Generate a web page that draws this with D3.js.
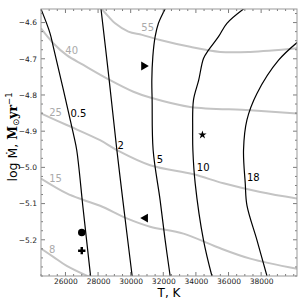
<!DOCTYPE html>
<html>
<head>
<meta charset="utf-8">
<script src="https://cdn.jsdelivr.net/npm/d3@7"></script>
<style>
  body { margin: 0; background: #fff; }
  text { font-family: "DejaVu Sans", sans-serif; }
</style>
</head>
<body>
<svg id="canvas" width="300" height="300"></svg>
<script>
// axis ticks
var tempTicks = [26000, 28000, 30000, 32000, 34000, 36000, 38000]
var mdotTicks = [-5.2, -5.1, -5.0, -4.9, -4.8, -4.7, -4.6]

// black contours (T, log Mdot) and their labels
var blackLabels = ["0.5", "2", "5", "10", "18"]
var black05 = [[24500,-4.5625],[25050,-4.629],[25255,-4.667],[26480,-4.906],[26690,-4.952],[27080,-5.113],[27540,-5.30]]
var black2 = [[28180,-4.5625],[28660,-4.75],[29140,-4.947],[29520,-5.091],[30090,-5.30]]
var black5 = [[32114,-4.5625],[31702,-4.602],[31500,-4.639],[31358,-4.694],[31297,-4.759],[31315,-4.814],[31377,-4.952],[31807,-5.091],[32114,-5.201],[32421,-5.30]]
var black10 = [[36921,-4.5625],[35902,-4.602],[35386,-4.639],[34772,-4.676],[34465,-4.699],[34171,-4.759],[33851,-4.814],[33802,-4.897],[33814,-4.952],[33956,-5.044],[34465,-5.201],[34981,-5.30]]
var black18 = [[40400,-4.648],[39070,-4.704],[37744,-4.796],[37130,-4.869],[36921,-4.952],[37026,-5.044],[37130,-5.105],[37744,-5.201],[38358,-5.30]]
var blackLabelPos = [[26790,-4.850],[29394,-4.939],[31788,-4.978],[34447,-5.000],[37517,-5.029]]

// gray contours
var grayLabels = ["55", "40", "25", "15", "8"]
var gray55 = [[28227,-4.5625],[28614,-4.582],[29044,-4.602],[29860,-4.625],[30701,-4.634],[31807,-4.648],[33649,-4.667],[35491,-4.681],[37333,-4.681],[40200,-4.671]]
var gray40 = [[24500,-4.616],[25255,-4.657],[26078,-4.690],[27097,-4.717],[28737,-4.759],[30167,-4.791],[31193,-4.807],[33649,-4.833],[37333,-4.842],[40200,-4.851]]
var gray25 = [[24500,-4.851],[26078,-4.883],[28123,-4.925],[29148,-4.952],[31193,-4.994],[33851,-5.019],[35693,-5.044],[37947,-5.068],[40200,-5.086]]
var gray15 = [[24500,-5.031],[26078,-5.072],[27100,-5.090],[28123,-5.106],[29762,-5.141],[31193,-5.164],[33237,-5.183],[35288,-5.220],[37333,-5.252],[40200,-5.280]]
var gray8 = [[24500,-5.224],[25255,-5.247],[26078,-5.272],[27600,-5.305]]
var grayLabelPos = [[31041,-4.612],[26385,-4.677],[25390,-4.849],[25390,-5.031],[25188,-5.227]]

// observed stars
var markerT = [30800, 34400, 30900, 27000, 27000]
var markerMdot = [-4.72, -4.91, -5.14, -5.18, -5.23]
var markerShape = ["tri-right", "star", "tri-left", "circle", "plus"]

var svg = d3.select("#canvas")
var mLeft = 41, mTop = 9, w = 256, h = 267

var x = d3.scaleLinear().domain([24500, 40200]).range([mLeft, mLeft + w])
var y = d3.scaleLinear().domain([-5.3, -4.5625]).range([mTop + h, mTop])

svg.append("clipPath").attr("id", "clip")
  .append("rect").attr("x", mLeft).attr("y", mTop).attr("width", w).attr("height", h)

var line = d3.line()
  .x(function(d) { return x(d[0]) })
  .y(function(d) { return y(d[1]) })
  .curve(d3.curveCatmullRom)

var plot = svg.append("g").attr("clip-path", "url(#clip)")

;[gray55, gray40, gray25, gray15, gray8].forEach(function(c) {
  plot.append("path").attr("d", line(c))
    .attr("fill", "none").attr("stroke", "#c4c4c4").attr("stroke-width", 2)
})
;[black05, black2, black5, black10, black18].forEach(function(c) {
  plot.append("path").attr("d", line(c))
    .attr("fill", "none").attr("stroke", "#000").attr("stroke-width", 1.2)
})

grayLabels.forEach(function(l, i) {
  svg.append("text").text(l)
    .attr("x", x(grayLabelPos[i][0])).attr("y", y(grayLabelPos[i][1]))
    .attr("dy", "0.36em").attr("text-anchor", "middle")
    .attr("font-size", 10).attr("fill", "#aaa")
})
blackLabels.forEach(function(l, i) {
  svg.append("text").text(l)
    .attr("x", x(blackLabelPos[i][0])).attr("y", y(blackLabelPos[i][1]))
    .attr("dy", "0.36em").attr("text-anchor", "middle")
    .attr("font-size", 10).attr("fill", "#000")
})

// markers
markerShape.forEach(function(s, i) {
  var px = x(markerT[i]), py = y(markerMdot[i])
  var sym, rot = 0, size = 40
  if (s == "tri-right") { sym = d3.symbolTriangle; rot = 90; size = 34 }
  if (s == "tri-left") { sym = d3.symbolTriangle; rot = -90; size = 34 }
  if (s == "star") { sym = d3.symbolStar; size = 22 }
  if (s == "circle") { sym = d3.symbolCircle; size = 44 }
  if (s == "plus") { sym = d3.symbolCross; size = 30 }
  svg.append("path").attr("d", d3.symbol().type(sym).size(size)())
    .attr("transform", "translate(" + px + "," + py + ") rotate(" + rot + ")")
    .attr("fill", "#000")
})

// ticks on all four sides, pointing in
var xMinor = d3.range(24500, 40200, 500)
var yMinor = d3.range(-5.3, -4.56, 0.025)
var tg = svg.append("g").attr("stroke", "#444").attr("stroke-width", 0.7)
xMinor.forEach(function(t) {
  var major = tempTicks.indexOf(t) >= 0
  var len = major ? 4 : 2
  tg.append("line").attr("x1", x(t)).attr("x2", x(t)).attr("y1", mTop + h).attr("y2", mTop + h - len)
  tg.append("line").attr("x1", x(t)).attr("x2", x(t)).attr("y1", mTop).attr("y2", mTop + len)
})
yMinor.forEach(function(v) {
  var major = mdotTicks.some(function(m) { return Math.abs(m - v) < 1e-6 })
  var len = major ? 4 : 2
  tg.append("line").attr("y1", y(v)).attr("y2", y(v)).attr("x1", mLeft).attr("x2", mLeft + len)
  tg.append("line").attr("y1", y(v)).attr("y2", y(v)).attr("x1", mLeft + w).attr("x2", mLeft + w - len)
})

svg.append("rect").attr("x", mLeft).attr("y", mTop).attr("width", w).attr("height", h)
  .attr("fill", "none").attr("stroke", "#999").attr("stroke-width", 1)

var xAxis = d3.axisBottom(x).tickValues(tempTicks).tickSize(0).tickPadding(2.5).tickFormat(d3.format("d"))
svg.append("g").attr("transform", "translate(0," + (mTop + h) + ")").call(xAxis)
  .call(function(g) { g.select(".domain").remove() })
  .selectAll("text").attr("font-size", 7.5).attr("fill", "#222").attr("font-family", "DejaVu Sans")

var yAxis = d3.axisLeft(y).tickValues(mdotTicks).tickSize(0).tickPadding(4)
  .tickFormat(function(d) { return d3.format(".1f")(d) })
svg.append("g").attr("transform", "translate(" + mLeft + ",0)").call(yAxis)
  .call(function(g) { g.select(".domain").remove() })
  .selectAll("text").attr("font-size", 7.5).attr("fill", "#222").attr("font-family", "DejaVu Sans")

svg.append("text").text("T, K")
  .attr("x", mLeft + w / 2).attr("y", 297).attr("text-anchor", "middle").attr("font-size", 12)

var yl = svg.append("text").attr("transform", "translate(17,137) rotate(-90)")
  .attr("text-anchor", "middle").attr("font-size", 12.5)
yl.append("tspan").text("log Ṁ, ")
yl.append("tspan").text("M").attr("font-family", "DejaVu Serif").attr("font-weight", "bold")
yl.append("tspan").text("⊙").attr("font-size", 8.5).attr("dy", 2)
yl.append("tspan").text("yr").attr("font-family", "DejaVu Serif").attr("font-weight", "bold").attr("dy", -2)
yl.append("tspan").text("−1").attr("font-size", 8.5).attr("dy", -5.5)
</script>
</body>
</html>
